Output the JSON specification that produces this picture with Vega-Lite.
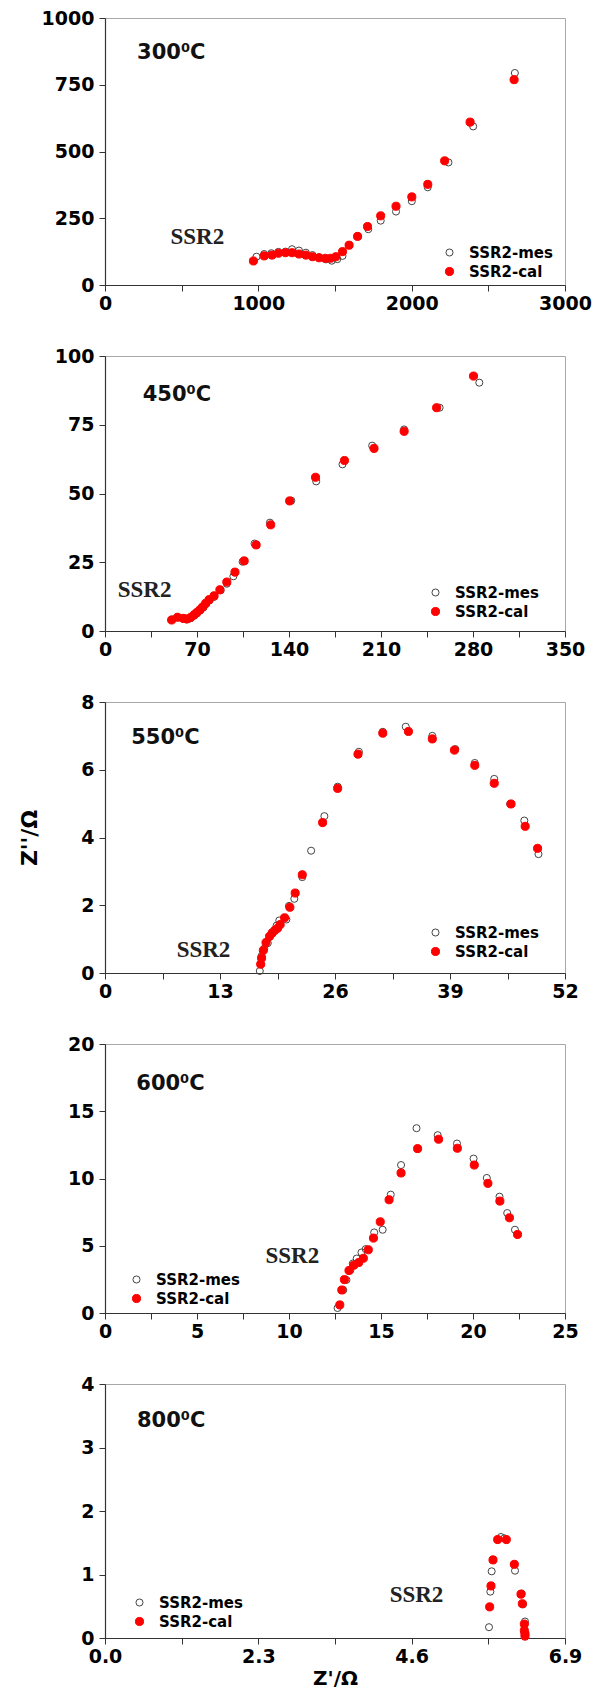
{
"$schema":"https://vega.github.io/schema/vega-lite/v6.json",
"background":"white",
"padding":{"left":18,"top":8,"right":5,"bottom":0},
"bounds":"flush",
"spacing":71,
"resolve":{"scale":{"fill":"independent","stroke":"independent","size":"independent"}},
"datasets":{
"p1":[
{"s":"SSR2-mes","x":988,"y":106},{"s":"SSR2-mes","x":1038,"y":116},{"s":"SSR2-mes","x":1085,"y":119},{"s":"SSR2-mes","x":1131,"y":124},{"s":"SSR2-mes","x":1177,"y":125},{"s":"SSR2-mes","x":1220,"y":134},{"s":"SSR2-mes","x":1265,"y":129},{"s":"SSR2-mes","x":1310,"y":121},{"s":"SSR2-mes","x":1353,"y":112},{"s":"SSR2-mes","x":1396,"y":104},{"s":"SSR2-mes","x":1441,"y":96},{"s":"SSR2-mes","x":1479,"y":91},{"s":"SSR2-mes","x":1515,"y":97},{"s":"SSR2-mes","x":1549,"y":109},{"s":"SSR2-mes","x":1592,"y":150},{"s":"SSR2-mes","x":1650,"y":182},{"s":"SSR2-mes","x":1717,"y":209},{"s":"SSR2-mes","x":1798,"y":241},{"s":"SSR2-mes","x":1898,"y":275},{"s":"SSR2-mes","x":2001,"y":314},{"s":"SSR2-mes","x":2105,"y":366},{"s":"SSR2-mes","x":2240,"y":459},{"s":"SSR2-mes","x":2401,"y":594},{"s":"SSR2-mes","x":2673,"y":794},
{"s":"SSR2-cal","x":968,"y":90},{"s":"SSR2-cal","x":1038,"y":109},{"s":"SSR2-cal","x":1089,"y":112},{"s":"SSR2-cal","x":1131,"y":119},{"s":"SSR2-cal","x":1177,"y":121},{"s":"SSR2-cal","x":1220,"y":121},{"s":"SSR2-cal","x":1265,"y":116},{"s":"SSR2-cal","x":1310,"y":112},{"s":"SSR2-cal","x":1353,"y":106},{"s":"SSR2-cal","x":1396,"y":102},{"s":"SSR2-cal","x":1436,"y":100},{"s":"SSR2-cal","x":1471,"y":100},{"s":"SSR2-cal","x":1506,"y":106},{"s":"SSR2-cal","x":1549,"y":125},{"s":"SSR2-cal","x":1592,"y":149},{"s":"SSR2-cal","x":1647,"y":182},{"s":"SSR2-cal","x":1712,"y":219},{"s":"SSR2-cal","x":1798,"y":259},{"s":"SSR2-cal","x":1898,"y":295},{"s":"SSR2-cal","x":2001,"y":330},{"s":"SSR2-cal","x":2105,"y":377},{"s":"SSR2-cal","x":2215,"y":465},{"s":"SSR2-cal","x":2381,"y":610},{"s":"SSR2-cal","x":2668,"y":769}
],
"p2":[
{"s":"SSR2-mes","x":51,"y":4.2},{"s":"SSR2-mes","x":55,"y":5.0},{"s":"SSR2-mes","x":59,"y":4.5},{"s":"SSR2-mes","x":62,"y":4.2},{"s":"SSR2-mes","x":65,"y":4.6},{"s":"SSR2-mes","x":68,"y":5.6},{"s":"SSR2-mes","x":70,"y":6.4},{"s":"SSR2-mes","x":72.5,"y":7.5},{"s":"SSR2-mes","x":75,"y":8.6},{"s":"SSR2-mes","x":77,"y":9.8},{"s":"SSR2-mes","x":79.5,"y":11.1},{"s":"SSR2-mes","x":83,"y":12.4},{"s":"SSR2-mes","x":88,"y":14.8},{"s":"SSR2-mes","x":92.7,"y":17.2},{"s":"SSR2-mes","x":97.7,"y":19.9},{"s":"SSR2-mes","x":104.7,"y":25.2},{"s":"SSR2-mes","x":113.8,"y":31.8},{"s":"SSR2-mes","x":125.5,"y":39.4},{"s":"SSR2-mes","x":141.7,"y":47.4},{"s":"SSR2-mes","x":160.7,"y":54.4},{"s":"SSR2-mes","x":180.7,"y":60.6},{"s":"SSR2-mes","x":203.3,"y":67.4},{"s":"SSR2-mes","x":227.6,"y":73.3},{"s":"SSR2-mes","x":254.6,"y":81.2},{"s":"SSR2-mes","x":284.8,"y":90.3},
{"s":"SSR2-cal","x":50.7,"y":4.0},{"s":"SSR2-cal","x":55.2,"y":5.0},{"s":"SSR2-cal","x":59.5,"y":4.6},{"s":"SSR2-cal","x":62.5,"y":4.4},{"s":"SSR2-cal","x":65.4,"y":5.0},{"s":"SSR2-cal","x":67.8,"y":5.9},{"s":"SSR2-cal","x":69.8,"y":6.7},{"s":"SSR2-cal","x":72.2,"y":7.7},{"s":"SSR2-cal","x":74.2,"y":8.7},{"s":"SSR2-cal","x":76.6,"y":10.1},{"s":"SSR2-cal","x":79.2,"y":11.4},{"s":"SSR2-cal","x":83,"y":12.8},{"s":"SSR2-cal","x":87.4,"y":15.0},{"s":"SSR2-cal","x":92.7,"y":17.8},{"s":"SSR2-cal","x":98.9,"y":21.4},{"s":"SSR2-cal","x":105.9,"y":25.5},{"s":"SSR2-cal","x":115,"y":31.3},{"s":"SSR2-cal","x":126.1,"y":38.6},{"s":"SSR2-cal","x":140.5,"y":47.3},{"s":"SSR2-cal","x":160.2,"y":55.9},{"s":"SSR2-cal","x":182.2,"y":62.0},{"s":"SSR2-cal","x":204.7,"y":66.4},{"s":"SSR2-cal","x":227.6,"y":72.6},{"s":"SSR2-cal","x":252.3,"y":81.2},{"s":"SSR2-cal","x":280.4,"y":92.7}
],
"p3":[
{"s":"SSR2-mes","x":17.5,"y":0.06},{"s":"SSR2-mes","x":17.7,"y":0.5},{"s":"SSR2-mes","x":18.0,"y":0.72},{"s":"SSR2-mes","x":18.4,"y":0.88},{"s":"SSR2-mes","x":18.9,"y":1.2},{"s":"SSR2-mes","x":19.4,"y":1.4},{"s":"SSR2-mes","x":19.7,"y":1.55},{"s":"SSR2-mes","x":20.5,"y":1.58},{"s":"SSR2-mes","x":20.8,"y":1.98},{"s":"SSR2-mes","x":21.4,"y":2.19},{"s":"SSR2-mes","x":22.3,"y":2.83},{"s":"SSR2-mes","x":23.3,"y":3.61},{"s":"SSR2-mes","x":24.8,"y":4.63},{"s":"SSR2-mes","x":26.3,"y":5.5},{"s":"SSR2-mes","x":28.7,"y":6.53},{"s":"SSR2-mes","x":31.4,"y":7.12},{"s":"SSR2-mes","x":34.0,"y":7.27},{"s":"SSR2-mes","x":37.0,"y":7.0},{"s":"SSR2-mes","x":39.6,"y":6.61},{"s":"SSR2-mes","x":41.8,"y":6.2},{"s":"SSR2-mes","x":44.0,"y":5.73},{"s":"SSR2-mes","x":45.8,"y":4.99},{"s":"SSR2-mes","x":47.4,"y":4.5},{"s":"SSR2-mes","x":49.0,"y":3.51},
{"s":"SSR2-cal","x":17.6,"y":0.26},{"s":"SSR2-cal","x":17.7,"y":0.44},{"s":"SSR2-cal","x":17.9,"y":0.67},{"s":"SSR2-cal","x":18.2,"y":0.9},{"s":"SSR2-cal","x":18.6,"y":1.08},{"s":"SSR2-cal","x":18.9,"y":1.18},{"s":"SSR2-cal","x":19.2,"y":1.26},{"s":"SSR2-cal","x":19.5,"y":1.32},{"s":"SSR2-cal","x":19.8,"y":1.43},{"s":"SSR2-cal","x":20.3,"y":1.63},{"s":"SSR2-cal","x":20.9,"y":1.94},{"s":"SSR2-cal","x":21.5,"y":2.36},{"s":"SSR2-cal","x":22.3,"y":2.9},{"s":"SSR2-cal","x":24.6,"y":4.44},{"s":"SSR2-cal","x":26.3,"y":5.45},{"s":"SSR2-cal","x":28.6,"y":6.46},{"s":"SSR2-cal","x":31.4,"y":7.08},{"s":"SSR2-cal","x":34.3,"y":7.13},{"s":"SSR2-cal","x":37.0,"y":6.91},{"s":"SSR2-cal","x":39.5,"y":6.58},{"s":"SSR2-cal","x":41.8,"y":6.13},{"s":"SSR2-cal","x":44.0,"y":5.6},{"s":"SSR2-cal","x":45.9,"y":4.99},{"s":"SSR2-cal","x":47.5,"y":4.33},{"s":"SSR2-cal","x":48.9,"y":3.68}
],
"p4":[
{"s":"SSR2-mes","x":12.64,"y":0.37},{"s":"SSR2-mes","x":12.95,"y":1.71},{"s":"SSR2-mes","x":13.12,"y":2.46},{"s":"SSR2-mes","x":13.33,"y":3.18},{"s":"SSR2-mes","x":13.47,"y":3.68},{"s":"SSR2-mes","x":13.68,"y":4.05},{"s":"SSR2-mes","x":13.94,"y":4.5},{"s":"SSR2-mes","x":14.17,"y":4.75},{"s":"SSR2-mes","x":14.63,"y":5.99},{"s":"SSR2-mes","x":15.09,"y":6.19},{"s":"SSR2-mes","x":15.53,"y":8.8},{"s":"SSR2-mes","x":16.09,"y":11.0},{"s":"SSR2-mes","x":16.93,"y":13.74},{"s":"SSR2-mes","x":18.08,"y":13.22},{"s":"SSR2-mes","x":19.13,"y":12.6},{"s":"SSR2-mes","x":20.03,"y":11.48},{"s":"SSR2-mes","x":20.75,"y":10.04},{"s":"SSR2-mes","x":21.44,"y":8.65},{"s":"SSR2-mes","x":21.86,"y":7.43},{"s":"SSR2-mes","x":22.28,"y":6.19},
{"s":"SSR2-cal","x":12.76,"y":0.6},{"s":"SSR2-cal","x":12.87,"y":1.71},{"s":"SSR2-cal","x":13.01,"y":2.48},{"s":"SSR2-cal","x":13.26,"y":3.16},{"s":"SSR2-cal","x":13.52,"y":3.55},{"s":"SSR2-cal","x":13.79,"y":3.75},{"s":"SSR2-cal","x":14.04,"y":4.07},{"s":"SSR2-cal","x":14.31,"y":4.7},{"s":"SSR2-cal","x":14.59,"y":5.57},{"s":"SSR2-cal","x":14.96,"y":6.78},{"s":"SSR2-cal","x":15.44,"y":8.42},{"s":"SSR2-cal","x":16.09,"y":10.41},{"s":"SSR2-cal","x":16.99,"y":12.22},{"s":"SSR2-cal","x":18.13,"y":12.92},{"s":"SSR2-cal","x":19.15,"y":12.25},{"s":"SSR2-cal","x":20.07,"y":11.0},{"s":"SSR2-cal","x":20.81,"y":9.64},{"s":"SSR2-cal","x":21.46,"y":8.32},{"s":"SSR2-cal","x":21.98,"y":7.08},{"s":"SSR2-cal","x":22.42,"y":5.84}
],
"p5":[
{"s":"SSR2-mes","x":5.76,"y":0.17},{"s":"SSR2-mes","x":5.78,"y":0.73},{"s":"SSR2-mes","x":5.8,"y":1.05},{"s":"SSR2-mes","x":5.94,"y":1.59},{"s":"SSR2-mes","x":5.99,"y":1.57},{"s":"SSR2-mes","x":6.15,"y":1.06},{"s":"SSR2-mes","x":6.25,"y":0.7},{"s":"SSR2-mes","x":6.27,"y":0.53},{"s":"SSR2-mes","x":6.3,"y":0.26},{"s":"SSR2-mes","x":6.29,"y":0.09},
{"s":"SSR2-cal","x":5.77,"y":0.49},{"s":"SSR2-cal","x":5.79,"y":0.82},{"s":"SSR2-cal","x":5.82,"y":1.23},{"s":"SSR2-cal","x":5.89,"y":1.55},{"s":"SSR2-cal","x":6.02,"y":1.55},{"s":"SSR2-cal","x":6.14,"y":1.16},{"s":"SSR2-cal","x":6.24,"y":0.69},{"s":"SSR2-cal","x":6.26,"y":0.54},{"s":"SSR2-cal","x":6.29,"y":0.22},{"s":"SSR2-cal","x":6.29,"y":0.12},{"s":"SSR2-cal","x":6.3,"y":0.07},{"s":"SSR2-cal","x":6.3,"y":0.03}
]
},
"vconcat":[
{"width":460,"height":267,"layer":[
 {"data":{"name":"p1"},"mark":{"type":"point","shape":"circle","strokeWidth":1,"opacity":1},
  "encoding":{
   "x":{"field":"x","type":"quantitative","scale":{"domain":[0,3000],"nice":false},"axis":{"title":null,"format":".0f","values":[0,500,1000,1500,2000,2500,3000],"labelExpr":"datum.value % 1000 === 0 ? datum.label : ''"}},
   "y":{"field":"y","type":"quantitative","scale":{"domain":[0,1000],"nice":false},"axis":{"title":null,"format":".0f","values":[0,125,250,375,500,625,750,875,1000],"labelExpr":"datum.value % 250 === 0 ? datum.label : ''"}},
   "fill":{"field":"s","type":"nominal","scale":{"domain":["SSR2-mes","SSR2-cal"],"range":["transparent","#ff0000"]},"legend":{"orient":"none","legendX":337,"legendY":227}},
   "stroke":{"field":"s","type":"nominal","scale":{"domain":["SSR2-mes","SSR2-cal"],"range":["#444444","#ff0000"]},"legend":{"orient":"none","legendX":337,"legendY":227}},
   "size":{"field":"s","type":"nominal","scale":{"domain":["SSR2-mes","SSR2-cal"],"range":[50,66]},"legend":{"orient":"none","legendX":337,"legendY":227}}
  }},
 {"data":{"values":[{}]},"mark":{"type":"text","align":"left","baseline":"middle","font":"DejaVu Sans","fontWeight":"bold","fontSize":21,"color":"#111"},
  "encoding":{"x":{"datum":209,"type":"quantitative"},"y":{"datum":869,"type":"quantitative"},"text":{"value":"300⁰C"}}},
 {"data":{"values":[{}]},"mark":{"type":"text","align":"left","baseline":"middle","font":"Liberation Serif","fontWeight":"bold","fontSize":23,"color":"#222"},
  "encoding":{"x":{"datum":427,"type":"quantitative"},"y":{"datum":178,"type":"quantitative"},"text":{"value":"SSR2"}}}
]},
{"width":460,"height":275,"layer":[
 {"data":{"name":"p2"},"mark":{"type":"point","shape":"circle","strokeWidth":1,"opacity":1},
  "encoding":{
   "x":{"field":"x","type":"quantitative","scale":{"domain":[0,350],"nice":false},"axis":{"title":null,"format":".0f","values":[0,35,70,105,140,175,210,245,280,315,350],"labelExpr":"datum.value % 70 === 0 ? datum.label : ''"}},
   "y":{"field":"y","type":"quantitative","scale":{"domain":[0,100],"nice":false},"axis":{"title":null,"format":".0f","values":[0,12.5,25,37.5,50,62.5,75,87.5,100],"labelExpr":"datum.value % 25 === 0 ? datum.label : ''"}},
   "fill":{"field":"s","type":"nominal","scale":{"domain":["SSR2-mes","SSR2-cal"],"range":["transparent","#ff0000"]},"legend":{"orient":"none","legendX":323,"legendY":229}},
   "stroke":{"field":"s","type":"nominal","scale":{"domain":["SSR2-mes","SSR2-cal"],"range":["#444444","#ff0000"]},"legend":{"orient":"none","legendX":323,"legendY":229}},
   "size":{"field":"s","type":"nominal","scale":{"domain":["SSR2-mes","SSR2-cal"],"range":[50,66]},"legend":{"orient":"none","legendX":323,"legendY":229}}
  }},
 {"data":{"values":[{}]},"mark":{"type":"text","align":"left","baseline":"middle","font":"DejaVu Sans","fontWeight":"bold","fontSize":21,"color":"#111"},
  "encoding":{"x":{"datum":28.7,"type":"quantitative"},"y":{"datum":86,"type":"quantitative"},"text":{"value":"450⁰C"}}},
 {"data":{"values":[{}]},"mark":{"type":"text","align":"left","baseline":"middle","font":"Liberation Serif","fontWeight":"bold","fontSize":23,"color":"#222"},
  "encoding":{"x":{"datum":9.7,"type":"quantitative"},"y":{"datum":15,"type":"quantitative"},"text":{"value":"SSR2"}}}
]},
{"width":460,"height":271,"layer":[
 {"data":{"name":"p3"},"mark":{"type":"point","shape":"circle","strokeWidth":1,"opacity":1},
  "encoding":{
   "x":{"field":"x","type":"quantitative","scale":{"domain":[0,52],"nice":false},"axis":{"title":null,"format":".0f","values":[0,6.5,13,19.5,26,32.5,39,45.5,52],"labelExpr":"datum.value % 13 === 0 ? datum.label : ''"}},
   "y":{"field":"y","type":"quantitative","scale":{"domain":[0,8],"nice":false},"axis":{"title":"Z''/Ω","format":".0f","values":[0,1,2,3,4,5,6,7,8],"labelExpr":"datum.value % 2 === 0 ? datum.label : ''"}},
   "fill":{"field":"s","type":"nominal","scale":{"domain":["SSR2-mes","SSR2-cal"],"range":["transparent","#ff0000"]},"legend":{"orient":"none","legendX":323,"legendY":223}},
   "stroke":{"field":"s","type":"nominal","scale":{"domain":["SSR2-mes","SSR2-cal"],"range":["#444444","#ff0000"]},"legend":{"orient":"none","legendX":323,"legendY":223}},
   "size":{"field":"s","type":"nominal","scale":{"domain":["SSR2-mes","SSR2-cal"],"range":[50,66]},"legend":{"orient":"none","legendX":323,"legendY":223}}
  }},
 {"data":{"values":[{}]},"mark":{"type":"text","align":"left","baseline":"middle","font":"DejaVu Sans","fontWeight":"bold","fontSize":21,"color":"#111"},
  "encoding":{"x":{"datum":2.96,"type":"quantitative"},"y":{"datum":6.93,"type":"quantitative"},"text":{"value":"550⁰C"}}},
 {"data":{"values":[{}]},"mark":{"type":"text","align":"left","baseline":"middle","font":"Liberation Serif","fontWeight":"bold","fontSize":23,"color":"#222"},
  "encoding":{"x":{"datum":8.1,"type":"quantitative"},"y":{"datum":0.67,"type":"quantitative"},"text":{"value":"SSR2"}}}
]},
{"width":460,"height":269,"layer":[
 {"data":{"name":"p4"},"mark":{"type":"point","shape":"circle","strokeWidth":1,"opacity":1},
  "encoding":{
   "x":{"field":"x","type":"quantitative","scale":{"domain":[0,25],"nice":false},"axis":{"title":null,"format":".0f","values":[0,2.5,5,7.5,10,12.5,15,17.5,20,22.5,25],"labelExpr":"datum.value % 5 === 0 ? datum.label : ''"}},
   "y":{"field":"y","type":"quantitative","scale":{"domain":[0,20],"nice":false},"axis":{"title":null,"format":".0f","values":[0,2.5,5,7.5,10,12.5,15,17.5,20],"labelExpr":"datum.value % 5 === 0 ? datum.label : ''"}},
   "fill":{"field":"s","type":"nominal","scale":{"domain":["SSR2-mes","SSR2-cal"],"range":["transparent","#ff0000"]},"legend":{"orient":"none","legendX":24,"legendY":228}},
   "stroke":{"field":"s","type":"nominal","scale":{"domain":["SSR2-mes","SSR2-cal"],"range":["#444444","#ff0000"]},"legend":{"orient":"none","legendX":24,"legendY":228}},
   "size":{"field":"s","type":"nominal","scale":{"domain":["SSR2-mes","SSR2-cal"],"range":[50,66]},"legend":{"orient":"none","legendX":24,"legendY":228}}
  }},
 {"data":{"values":[{}]},"mark":{"type":"text","align":"left","baseline":"middle","font":"DejaVu Sans","fontWeight":"bold","fontSize":21,"color":"#111"},
  "encoding":{"x":{"datum":1.7,"type":"quantitative"},"y":{"datum":17.0,"type":"quantitative"},"text":{"value":"600⁰C"}}},
 {"data":{"values":[{}]},"mark":{"type":"text","align":"left","baseline":"middle","font":"Liberation Serif","fontWeight":"bold","fontSize":23,"color":"#222"},
  "encoding":{"x":{"datum":8.72,"type":"quantitative"},"y":{"datum":4.25,"type":"quantitative"},"text":{"value":"SSR2"}}}
]},
{"width":460,"height":254,"layer":[
 {"data":{"name":"p5"},"mark":{"type":"point","shape":"circle","strokeWidth":1,"opacity":1},
  "encoding":{
   "x":{"field":"x","type":"quantitative","scale":{"domain":[0,6.9],"nice":false},"axis":{"title":"Z'/Ω","titleFontSize":20,"titlePadding":2,"format":".1f","values":[0,1.15,2.3,3.45,4.6,5.75,6.9],"labelExpr":"abs(datum.value/2.3 - round(datum.value/2.3)) < 0.01 ? datum.label : ''"}},
   "y":{"field":"y","type":"quantitative","scale":{"domain":[0,4],"nice":false},"axis":{"title":null,"format":".0f","values":[0,0.5,1,1.5,2,2.5,3,3.5,4],"labelExpr":"datum.value % 1 === 0 ? datum.label : ''"}},
   "fill":{"field":"s","type":"nominal","scale":{"domain":["SSR2-mes","SSR2-cal"],"range":["transparent","#ff0000"]},"legend":{"orient":"none","legendX":27,"legendY":211}},
   "stroke":{"field":"s","type":"nominal","scale":{"domain":["SSR2-mes","SSR2-cal"],"range":["#444444","#ff0000"]},"legend":{"orient":"none","legendX":27,"legendY":211}},
   "size":{"field":"s","type":"nominal","scale":{"domain":["SSR2-mes","SSR2-cal"],"range":[50,66]},"legend":{"orient":"none","legendX":27,"legendY":211}}
  }},
 {"data":{"values":[{}]},"mark":{"type":"text","align":"left","baseline":"middle","font":"DejaVu Sans","fontWeight":"bold","fontSize":21,"color":"#111"},
  "encoding":{"x":{"datum":0.48,"type":"quantitative"},"y":{"datum":3.41,"type":"quantitative"},"text":{"value":"800⁰C"}}},
 {"data":{"values":[{}]},"mark":{"type":"text","align":"left","baseline":"middle","font":"Liberation Serif","fontWeight":"bold","fontSize":23,"color":"#222"},
  "encoding":{"x":{"datum":4.27,"type":"quantitative"},"y":{"datum":0.67,"type":"quantitative"},"text":{"value":"SSR2"}}}
]}
],
"config":{
 "view":{"stroke":"#a8a8a8","strokeWidth":1},
 "axis":{"grid":false,"labelFont":"DejaVu Sans","labelFontWeight":"bold","labelFontSize":19,"labelColor":"#000","domainColor":"#333","domainWidth":1.2,"tickColor":"#333","tickSize":6,"tickWidth":1,"labelFlush":false,"labelOverlap":false,"titleFont":"DejaVu Sans","titleFontWeight":"bold","titleFontSize":22,"titleColor":"#000"},
 "axisX":{"labelPadding":3,"titlePadding":2},
 "axisY":{"labelPadding":5,"titlePadding":39},
 "legend":{"title":null,"padding":0,"labelFont":"DejaVu Sans","labelFontWeight":"bold","labelFontSize":15,"labelColor":"#000","symbolType":"circle","symbolStrokeWidth":1,"labelOffset":12,"rowPadding":3}
}
}
